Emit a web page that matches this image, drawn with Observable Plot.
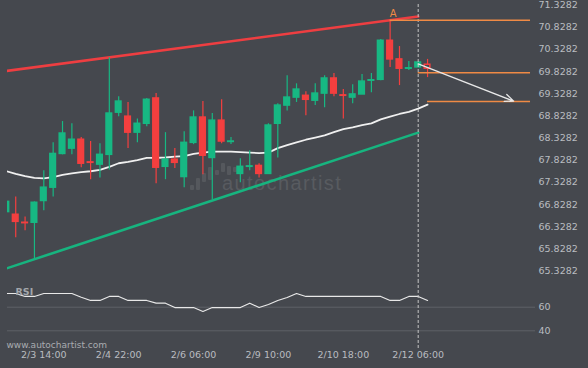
<!DOCTYPE html>
<html><head><meta charset="utf-8">
<script src="https://cdn.jsdelivr.net/npm/d3@7"></script>
<script src="https://cdn.jsdelivr.net/npm/@observablehq/plot@0.6"></script>
<style>
html,body{margin:0;padding:0;background:#45484e;}
#wrap{position:relative;width:588px;height:368px;overflow:hidden;background:#45484e;font-family:"DejaVu Sans",sans-serif;}
#wm{position:absolute;left:0;top:0;width:588px;height:368px;}
#wm .t{position:absolute;left:222px;top:172px;font:300 20px "Liberation Sans",Arial,sans-serif;letter-spacing:1.4px;color:#585b60;}
#wm .b{position:absolute;width:4px;background:#55585d;border-radius:1px;}
#main{position:absolute;left:0;top:0;}
#rsi{position:absolute;left:0;top:280px;}
svg{overflow:visible;}
</style></head><body>
<div id="wrap">
  <div id="wm">
    <div class="b" style="left:190px;top:185px;height:5px"></div>
    <div class="b" style="left:196px;top:178px;height:12px"></div>
    <div class="b" style="left:202px;top:173px;height:9px"></div>
    <div class="b" style="left:208px;top:167px;height:13px"></div>
    <div class="b" style="left:215px;top:170px;height:5px"></div>
    <div class="b" style="left:221px;top:163px;height:9px"></div>
    <div class="b" style="left:227px;top:166px;height:9px"></div>
    <div class="b" style="left:233px;top:167px;height:5px"></div>
    <div class="t">autochartist</div>
  </div>
  <div id="main"></div>
  <div id="rsi"></div>
</div>
<script>
// ---- data (4-hour candles, index 0..45) ----
const open  = [66.66,66.60,66.42,66.42,66.91,67.21,67.97,68.09,68.29,67.78,67.73,67.95,68.90,68.81,68.45,68.65,69.22,67.68,67.84,67.45,68.22,68.79,67.88,68.72,68.24,67.52,67.68,67.70,67.52,68.65,69.06,69.24,69.28,69.17,69.33,69.67,69.29,69.24,69.31,69.62,69.64,70.52,70.10,69.89,69.92,69.98];
const high  = [66.92,67.00,66.55,66.89,67.59,68.22,68.70,68.65,68.34,68.25,68.20,70.14,69.26,69.13,68.76,69.22,69.33,68.45,68.09,68.47,68.94,69.15,68.88,69.19,68.34,67.86,68.04,67.75,68.65,69.10,69.73,69.55,69.37,69.55,69.73,69.78,69.42,69.53,69.76,69.78,70.55,70.98,70.39,70.05,70.03,70.10];
const low   = [66.64,66.08,66.24,65.60,66.69,67.00,67.95,67.95,67.66,67.39,67.43,67.61,68.81,68.09,68.22,68.58,67.30,67.39,67.64,67.21,68.18,67.50,66.94,68.20,68.18,67.32,67.59,67.43,67.52,67.88,68.94,69.13,68.83,69.06,69.01,69.26,68.76,69.10,69.31,69.35,69.62,69.92,69.51,69.85,69.92,69.69];
const close = [66.89,66.44,66.41,66.87,67.21,67.97,68.43,68.29,67.75,67.77,67.95,68.88,69.15,68.45,68.65,69.19,67.66,67.84,67.77,68.22,68.79,67.93,68.72,68.25,68.25,67.68,67.69,67.52,68.61,69.06,69.24,69.42,69.19,69.33,69.67,69.33,69.28,69.31,69.60,69.63,70.52,70.10,69.89,69.90,70.03,69.89];
const movingAvg = [67.58,67.52,67.47,67.43,67.42,67.45,67.50,67.53,67.56,67.58,67.61,67.68,67.76,67.79,67.83,67.88,67.88,67.89,67.91,67.92,67.97,68.00,68.02,68.02,68.02,68.01,68.00,67.99,68.00,68.10,68.17,68.23,68.29,68.34,68.39,68.46,68.53,68.57,68.62,68.66,68.75,68.81,68.87,68.92,68.99,69.08];
const rsiValues = [71.6,71.6,69.1,69.1,71.6,71.6,71.6,71.6,68.4,65.7,65.7,69.1,69.1,65.7,65.7,65.7,63.4,63.4,59.7,59.7,59.7,56.4,59.7,59.7,59.7,59.7,63.4,59.7,62.3,65.7,68.2,71.6,69.1,69.1,69.1,69.1,69.1,69.1,69.1,69.1,69.1,65.7,65.7,69.1,69.1,65.7];
const timeTickIdx = [4,12,20,28,36,44];
const timeTickLabels = ["2/3 14:00","2/4 22:00","2/6 06:00","2/9 10:00","2/10 18:00","2/12 06:00"];
const priceTicks = [65.3282,65.8282,66.3282,66.8282,67.3282,67.8282,68.3282,68.8282,69.3282,69.8282,70.3282,70.8282,71.3282];
const rsiTicks = [40,60];
const resistanceLine = [{i:0,v:69.84},{i:44,v:71.066}];
const supportLine = [{i:0,v:65.39},{i:44,v:68.45}];
const levelStart = [41,44,45];
const levelValue = [70.98,69.80,69.15];
const forecast = [{i1:44,v1:70.00,i2:54.2,v2:69.16}];
const patternPoint = [{i:41,v:70.98,label:"A"}];
const lastIdx = 44;     // current time marker
const pendingIdx = 45;  // still-forming candle (hollow)

// ---- styling ----
const BG = "#45484e", UP = "#17b883", DOWN = "#f43f3f", ORANGE = "#ef8a45", AXIS = "#b9bcc0";
const xDom = [0, 56];
const xRange = [5.86, 530.02];

const candles = d3.range(open.length).map(i => ({i, o:open[i], h:high[i], l:low[i], c:close[i], up: close[i] >= open[i]}));
const maData = movingAvg.map((v,i)=>({i,v}));
const rsiData = rsiValues.map((v,i)=>({i,v}));
const levels = levelStart.map((s,k)=>({from:s, to:xDom[1], v:levelValue[k]}));

const main = Plot.plot({
  width:588, height:280,
  marginLeft:7, marginRight:57, marginTop:0, marginBottom:0,
  style:{background:"transparent", color:AXIS, fontFamily:"DejaVu Sans", fontSize:"9.5px"},
  x:{domain:xDom, range:xRange, axis:null},
  y:{domain:[65.3282,71.3282], range:[270.7,4.39], axis:null},
  marks:[
    Plot.line(resistanceLine, {x:"i", y:"v", stroke:"#ee3e41", strokeWidth:2.6, clip:true}),
    Plot.line(supportLine, {x:"i", y:"v", stroke:"#17b47f", strokeWidth:2.6, clip:true}),
    Plot.line(maData, {x:"i", y:"v", stroke:"#f0f0f0", strokeWidth:1.8, clip:true}),
    Plot.ruleX(candles, {x:"i", y1:"l", y2:"h", stroke:d=>d.up?UP:DOWN, strokeWidth:1.2, clip:true}),
    Plot.rect(candles, {x1:d=>d.i-0.3, x2:d=>d.i+0.3, y1:"o", y2:"c",
      fill:d=>d.i===pendingIdx?BG:(d.up?UP:DOWN), stroke:d=>d.up?UP:DOWN, strokeWidth:1.5, clip:true}),
    Plot.ruleX([lastIdx], {x:d=>d, stroke:"#c4c4c4", strokeWidth:1, strokeDasharray:"3,2", insetTop:4}),
    Plot.ruleY(levels, {y:"v", x1:"from", x2:"to", stroke:ORANGE, strokeWidth:1.5}),
    Plot.arrow(forecast, {x1:"i1", y1:"v1", x2:"i2", y2:"v2", stroke:"#e8e8e8", strokeWidth:1.3, headLength:11, headAngle:45}),
    Plot.text(patternPoint, {x:"i", y:"v", text:"label", fill:ORANGE, fontSize:10, dx:3, dy:-7, lineAnchor:"middle"}),
    Plot.axisY({anchor:"right", ticks:priceTicks, tickSize:0, tickPadding:7, tickFormat:d=>d.toFixed(4), label:null, textAnchor:"start"})
  ]
});
document.getElementById("main").appendChild(main);

const rsiPlot = Plot.plot({
  width:588, height:88,
  marginLeft:7, marginRight:53, marginTop:0, marginBottom:20,
  style:{background:"transparent", color:AXIS, fontFamily:"DejaVu Sans", fontSize:"9.5px"},
  x:{domain:xDom, range:xRange, axis:null},
  y:{domain:[40,60], range:[50.3,26.7], axis:null},
  marks:[
    Plot.ruleY(rsiTicks, {y:d=>d, stroke:"#5f6267", strokeWidth:1}),
    Plot.line(rsiData, {x:"i", y:"v", stroke:"#e8e8e8", strokeWidth:1.2, clip:true}),
    Plot.ruleX([lastIdx], {x:d=>d, stroke:"#c4c4c4", strokeWidth:1, strokeDasharray:"3,2", insetBottom:-2}),
    Plot.text(["RSI"], {frameAnchor:"top-left", text:d=>d, dx:8, dy:11, lineAnchor:"middle", textAnchor:"start", fontWeight:"bold", fill:"#a3a6ab", fontSize:9.5}),
    Plot.text(["www.autochartist.com"], {frameAnchor:"bottom-left", text:d=>d, dx:-1, dy:-3, lineAnchor:"middle", textAnchor:"start", fill:"#a9acb0", fontSize:9}),
    Plot.axisY({anchor:"right", ticks:rsiTicks, tickSize:0, tickPadding:3, label:null, textAnchor:"start"}),
    Plot.axisX({ticks:timeTickIdx, tickSize:0, tickPadding:3, label:null, tickFormat:d=>timeTickLabels[timeTickIdx.indexOf(d)]})
  ]
});
document.getElementById("rsi").appendChild(rsiPlot);
</script>
</body></html>
